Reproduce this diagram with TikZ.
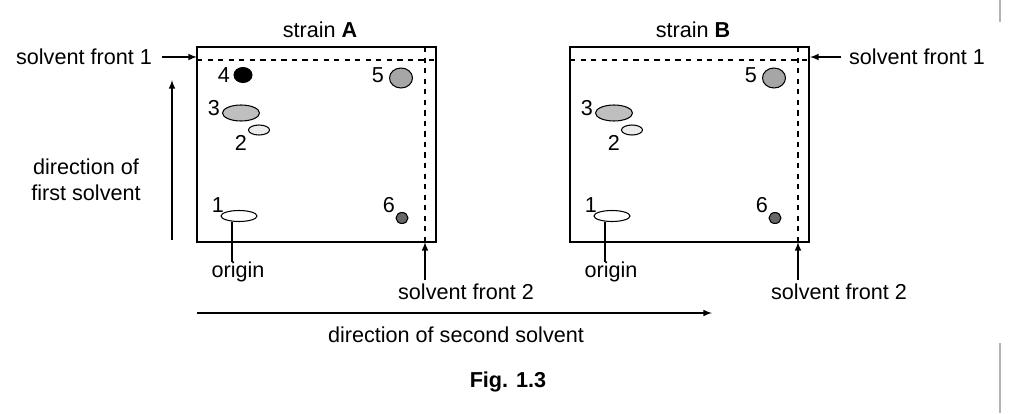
\documentclass[tikz,border=0pt]{standalone}
\usepackage{fontspec}
\setmainfont{Liberation Sans}
\usetikzlibrary{shapes.geometric}
\begin{document}
\begin{tikzpicture}[x=0.02cm,y=-0.02cm,font=\fontsize{12.3}{14.5}\selectfont,
 plate/.style={draw,line width=0.8pt},
 front/.style={dashed,line width=0.7pt},
 spot/.style={draw,ellipse,line width=0.6pt,inner sep=0pt},
 arr/.style={-latex,line width=0.7pt},
 lab/.style={inner sep=1pt}]
\useasboundingbox (0,0) rectangle (1015,413);
\draw[gray!60,line width=0.6pt] (1000,0) -- (1000,22) (1000,343) -- (1000,413);
\foreach \p/\dx/\s in {A/0/A,B/373/B}{
 \begin{scope}[xshift=\dx*0.02cm]
 \node[plate,minimum width=239*0.02cm,minimum height=195*0.02cm,inner sep=0pt] (pl\p) at (316.5,144.5) {};
 \coordinate (h1\p) at (197,60); \coordinate (h2\p) at (436,60);
 \coordinate (v1\p) at (425,47); \coordinate (v2\p) at (425,242);
 \draw[front] (h1\p) -- (h2\p); \draw[front] (v1\p) -- (v2\p);
 \node[lab] (st\p) at (320,30) {strain \textbf{\s}};
 \node[spot,fill=gray!70,minimum width=23*0.02cm,minimum height=20*0.02cm] (s5\p) at (401,78) {};
 \node[spot,fill=gray!50,minimum width=37*0.02cm,minimum height=16*0.02cm] (s3\p) at (241,113) {};
 \node[spot,fill=gray!15,minimum width=21*0.02cm,minimum height=10*0.02cm] (s2\p) at (259,130) {};
 \node[spot,fill=white,minimum width=36*0.02cm,minimum height=11*0.02cm] (s1\p) at (239,216) {};
 \node[spot,fill=gray!80!black,minimum width=12*0.02cm,minimum height=11*0.02cm] (s6\p) at (402,218) {};
 \node[lab] (l5\p) at (378,75) {5};
 \node[lab] (l3\p) at (214,108) {3};
 \node[lab] (l2\p) at (241,143) {2};
 \node[lab] (l1\p) at (218,205) {1};
 \node[lab] (l6\p) at (389,205) {6};
 \node[lab] (or\p) at (238,272) {origin};
 \coordinate (ob\p) at (232,262);
 \draw[line width=0.6pt] (s1\p.south -| ob\p) -- (ob\p);
 \node[lab] (sf2\p) at (466,292) {solvent front 2};
 \coordinate (a2\p) at (425,280);
 \draw[arr] (a2\p) -- (v2\p);
 \end{scope}}
\node[spot,fill=black,minimum width=18*0.02cm,minimum height=15*0.02cm] (s4A) at (243,75) {};
\node[lab] (l4A) at (224,75) {4};
\node[lab] (sf1A) at (84,57) {solvent front 1};
\coordinate (t1A) at (197,57);
\draw[arr] (sf1A.east) ++(8,0) coordinate (f1A) -- (t1A);
\node[lab] (sf1B) at (917,57) {solvent front 1};
\coordinate (t1B) at (810,57);
\draw[arr] (sf1B.west) ++(-6,0) coordinate (f1B) -- (t1B);
\coordinate (d1a) at (172,240); \coordinate (d1b) at (172,80);
\draw[arr] (d1a) -- (d1b);
\node[lab,align=center] (d1) at (86,180) {direction of\\first solvent};
\coordinate (d2a) at (197,313); \coordinate (d2b) at (712,313);
\draw[arr] (d2a) -- (d2b);
\node[lab] (d2) at (456,335) {direction of second solvent};
\node[lab] (fig) at (508,382) {\textbf{Fig. 1.3}};
\end{tikzpicture}
\end{document}
